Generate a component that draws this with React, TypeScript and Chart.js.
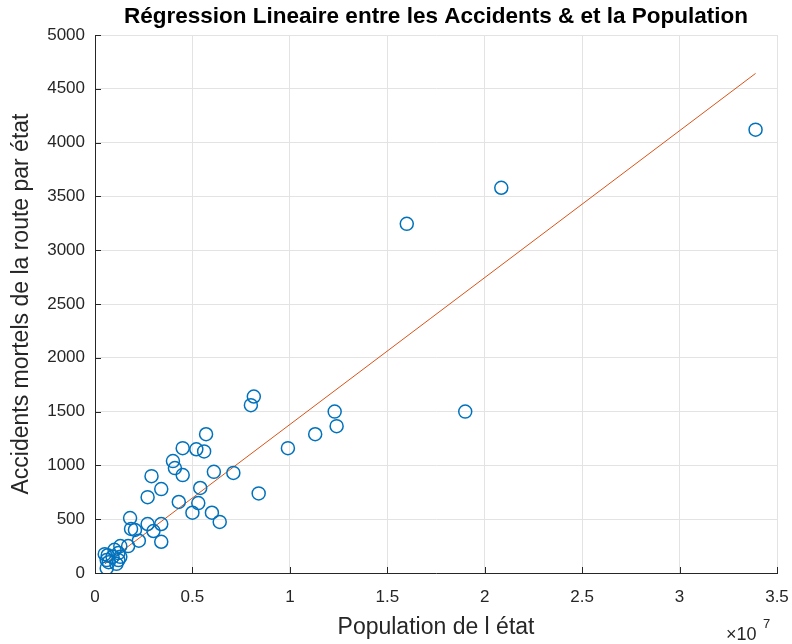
import React, { useEffect, useRef } from "react";
import { Chart, registerables } from "chart.js";

Chart.register(...registerables);

const TITLE = "Régression Lineaire entre les Accidents & et la Population";
const X_LABEL = "Population de l état";
const Y_LABEL = "Accidents mortels de la route par état";

// Population (in units of 1e7) and fatal accidents per state
const populationE7 = [
  3.39, 2.085, 1.6, 1.9, 0.815, 0.8, 1.23, 1.24, 1.13, 0.99,
  0.84, 0.71, 0.57, 0.56, 0.52, 0.45, 0.4, 0.41, 0.45, 0.61,
  0.54, 0.43, 0.53, 0.6, 0.64, 0.5, 0.29, 0.27, 0.34, 0.27,
  0.34, 0.3, 0.34, 0.18, 0.185, 0.205, 0.225, 0.17, 0.13, 0.12,
  0.13, 0.1, 0.065, 0.05, 0.07, 0.11, 0.06, 0.09, 0.06, 0.12,
];
const fatalities = [
  4120, 3580, 3245, 1500, 1640, 1560, 1500, 1365, 1290, 1160,
  740, 930, 1290, 1130, 1150, 1160, 1040, 975, 910, 940,
  790, 660, 650, 560, 475, 560, 900, 705, 780, 455,
  455, 390, 290, 510, 410, 400, 300, 250, 250, 185,
  150, 215, 165, 175, 100, 85, 45, 150, 120, 120,
];

// Fitted regression line endpoints
const fitX = [0.05, 3.39];
const fitY = [83, 4643];

const xTicks = [0, 0.5, 1, 1.5, 2, 2.5, 3, 3.5];
const yTicks = [0, 500, 1000, 1500, 2000, 2500, 3000, 3500, 4000, 4500, 5000];

const TEXT = "#262626";
const FONT = "'Liberation Sans', Arial, Helvetica, sans-serif";

const extras = {
  id: "extras",
  afterDraw(chart: any) {
    const ctx = chart.ctx;
    const a = chart.chartArea;
    const xs = chart.scales.x;
    const ys = chart.scales.y;
    ctx.save();
    // inward ticks
    ctx.strokeStyle = TEXT;
    ctx.lineWidth = 1;
    ctx.beginPath();
    for (const v of yTicks) {
      const p = Math.round(ys.getPixelForValue(v)) + 0.5;
      ctx.moveTo(a.left, p);
      ctx.lineTo(a.left + 6, p);
    }
    for (const v of xTicks) {
      const p = Math.round(xs.getPixelForValue(v)) + 0.5;
      ctx.moveTo(p, a.bottom);
      ctx.lineTo(p, a.bottom - 6);
    }
    ctx.stroke();
    // title
    ctx.fillStyle = "#000";
    ctx.font = `bold 22.5px ${FONT}`;
    ctx.textAlign = "center";
    ctx.textBaseline = "middle";
    ctx.fillText(TITLE, (a.left + a.right) / 2, 17);
    // exponent
    ctx.fillStyle = TEXT;
    ctx.font = `18px ${FONT}`;
    ctx.textAlign = "left";
    ctx.textBaseline = "alphabetic";
    ctx.fillText("×10", 726, 640);
    ctx.font = `13px ${FONT}`;
    ctx.fillText("7", 763, 628);
    ctx.restore();
  },
};

export default function App() {
  const ref = useRef<HTMLCanvasElement>(null);
  useEffect(() => {
    document.body.style.margin = "0";
    const pts = populationE7.map((x, i) => ({ x, y: fatalities[i] }));
    const line = fitX.map((x, i) => ({ x, y: fitY[i] }));
    const chart = new Chart(ref.current!, {
      type: "scatter",
      data: {
        datasets: [
          {
            data: pts,
            showLine: false,
            pointRadius: 6.5,
            pointHoverRadius: 6.5,
            pointBorderWidth: 1.5,
            pointBorderColor: "#0072BD",
            pointBackgroundColor: "rgba(0,0,0,0)",
          },
          {
            data: line,
            showLine: true,
            borderColor: "#D95319",
            borderWidth: 1,
            pointRadius: 0,
            fill: false,
          },
        ],
      },
      options: {
        animation: false,
        responsive: false,
        layout: { padding: { top: 35, right: 15, left: 0, bottom: 0 } },
        plugins: { legend: { display: false }, tooltip: { enabled: false } },
        scales: {
          x: {
            type: "linear",
            min: 0,
            max: 3.5,
            afterBuildTicks: (s: any) => { s.ticks = xTicks.map((v) => ({ value: v })); },
            afterFit: (s: any) => { s.height = 71; s.paddingLeft = 0; s.paddingRight = 0; },
            ticks: {
              color: TEXT,
              font: { family: FONT, size: 17 },
              padding: 14,
              maxRotation: 0,
              callback: (v: any) => String(v),
            },
            grid: { color: "#e3e3e3", drawTicks: false },
            border: { color: TEXT, width: 1 },
            title: {
              display: true,
              text: X_LABEL,
              color: TEXT,
              font: { family: FONT, size: 23 },
              padding: { top: 0, bottom: 3 },
            },
          },
          y: {
            type: "linear",
            min: 0,
            max: 5000,
            afterBuildTicks: (s: any) => { s.ticks = yTicks.map((v) => ({ value: v })); },
            afterFit: (s: any) => { s.width = 95; s.paddingTop = 0; s.paddingBottom = 0; },
            ticks: {
              color: TEXT,
              font: { family: FONT, size: 17 },
              padding: 10,
              callback: (v: any) => String(v),
            },
            grid: { color: "#e3e3e3", drawTicks: false },
            border: { color: TEXT, width: 1 },
            title: {
              display: true,
              text: Y_LABEL,
              color: TEXT,
              font: { family: FONT, size: 23 },
              padding: { top: 8, bottom: 0 },
            },
          },
        },
      },
      plugins: [extras],
    });
    return () => chart.destroy();
  }, []);
  return (
    <div style={{ width: 792, height: 644 }}>
      <canvas ref={ref} width={792} height={644} style={{ display: "block" }} />
    </div>
  );
}
